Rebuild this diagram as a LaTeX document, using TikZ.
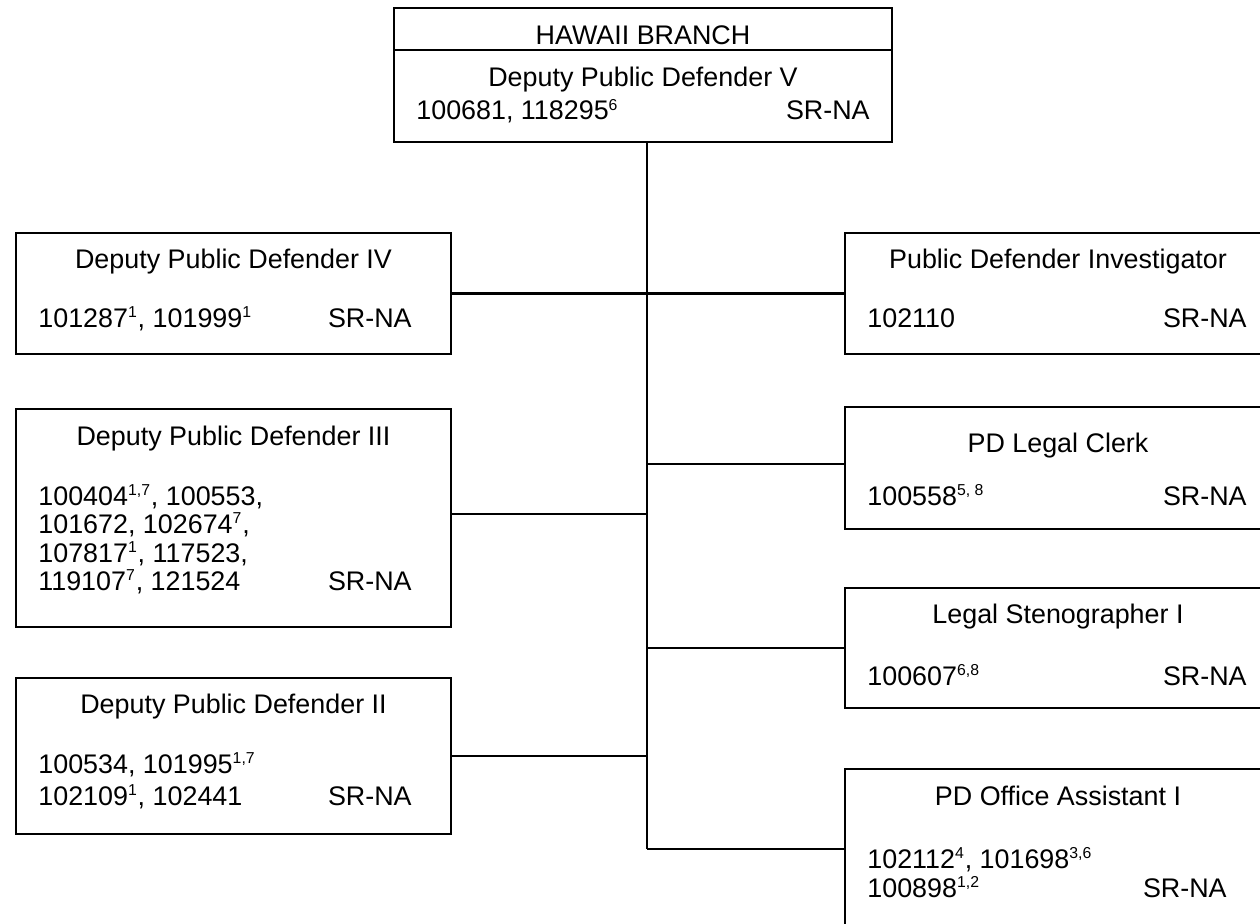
\documentclass[tikz,border=0pt]{standalone}
\usepackage{fontspec}
\setmainfont{Liberation Sans}
\newcommand\fnote[1]{\textsuperscript{\fontsize{9}{10}\selectfont #1}}
\begin{document}
\begin{tikzpicture}[
    box/.style={draw, rectangle, line width=1.6pt, inner sep=0pt},
    txt/.style={inner sep=0pt, font=\fontsize{15.3}{18}\selectfont},
    link/.style={line width=1.3pt}]

    \useasboundingbox (0,0) rectangle (25.2,-18.48);

    % Boxes
    \node at (12.86,-0.58) (head) [box, minimum width=9.96cm, minimum height=0.84cm] {};
    \node at (12.86,-1.92) (top) [box, minimum width=9.96cm, minimum height=1.84cm] {};

    \node at (4.67,-5.87) (dpd4) [box, minimum width=8.7cm, minimum height=2.42cm] {};
    \node at (4.67,-10.36) (dpd3) [box, minimum width=8.7cm, minimum height=4.36cm] {};
    \node at (4.67,-15.12) (dpd2) [box, minimum width=8.7cm, minimum height=3.12cm] {};

    \node at (21.95,-5.87) (pdi) [box, minimum width=10.1cm, minimum height=2.42cm] {};
    \node at (21.95,-9.36) (clerk) [box, minimum width=10.1cm, minimum height=2.44cm] {};
    \node at (21.95,-12.96) (steno) [box, minimum width=10.1cm, minimum height=2.4cm] {};
    \node at (21.95,-17.44) (assist) [box, minimum width=10.1cm, minimum height=4.12cm] {};

    % Texts
    \node at (12.86,-0.90) (headtxt) [txt, anchor=base] {HAWAII BRANCH};
    \node at (12.86,-1.74) (toptitle) [txt, anchor=base] {Deputy Public Defender V};
    \node at (8.32,-2.40) (topnum) [txt, anchor=base west] {100681, 118295\fnote{6}};
    \node at (17.40,-2.40) (topsr) [txt, anchor=base east] {SR-NA};

    \node at (4.67,-5.36) (dpd4title) [txt, anchor=base] {Deputy Public Defender IV};
    \node at (0.76,-6.54) (dpd4num) [txt, anchor=base west] {101287\fnote{1}, 101999\fnote{1}};
    \node at (8.24,-6.54) (dpd4sr) [txt, anchor=base east] {SR-NA};

    \node at (4.67,-8.90) (dpd3title) [txt, anchor=base] {Deputy Public Defender III};
    \node at (0.76,-10.10) (dpd3numa) [txt, anchor=base west] {100404\fnote{1,7}, 100553,};
    \node at (0.76,-10.66) (dpd3numb) [txt, anchor=base west] {101672, 102674\fnote{7},};
    \node at (0.76,-11.24) (dpd3numc) [txt, anchor=base west] {107817\fnote{1}, 117523,};
    \node at (0.76,-11.80) (dpd3numd) [txt, anchor=base west] {119107\fnote{7}, 121524};
    \node at (8.24,-11.80) (dpd3sr) [txt, anchor=base east] {SR-NA};

    \node at (4.67,-14.26) (dpd2title) [txt, anchor=base] {Deputy Public Defender II};
    \node at (0.76,-15.46) (dpd2numa) [txt, anchor=base west] {100534, 101995\fnote{1,7}};
    \node at (0.76,-16.10) (dpd2numb) [txt, anchor=base west] {102109\fnote{1}, 102441};
    \node at (8.24,-16.10) (dpd2sr) [txt, anchor=base east] {SR-NA};

    \node at (21.16,-5.36) (pdititle) [txt, anchor=base] {Public Defender Investigator};
    \node at (17.34,-6.54) (pdinum) [txt, anchor=base west] {102110};
    \node at (24.94,-6.54) (pdisr) [txt, anchor=base east] {SR-NA};

    \node at (21.16,-9.04) (clerktitle) [txt, anchor=base] {PD Legal Clerk};
    \node at (17.34,-10.10) (clerknum) [txt, anchor=base west] {100558\fnote{5, 8}};
    \node at (24.94,-10.10) (clerksr) [txt, anchor=base east] {SR-NA};

    \node at (21.16,-12.46) (stenotitle) [txt, anchor=base] {Legal Stenographer I};
    \node at (17.34,-13.70) (stenonum) [txt, anchor=base west] {100607\fnote{6,8}};
    \node at (24.94,-13.70) (stenosr) [txt, anchor=base east] {SR-NA};

    \node at (21.16,-16.10) (assisttitle) [txt, anchor=base] {PD Office Assistant I};
    \node at (17.34,-17.36) (assistnuma) [txt, anchor=base west] {102112\fnote{4}, 101698\fnote{3,6}};
    \node at (17.34,-17.94) (assistnumb) [txt, anchor=base west] {100898\fnote{1,2}};
    \node at (24.54,-17.94) (assistsr) [txt, anchor=base east] {SR-NA};

    % Lines
    \coordinate (trunkbot) at (12.94,-16.98);
    \coordinate (j3) at (12.94,-10.28);
    \coordinate (j5) at (12.94,-9.28);

    \draw[link] (top.south -| trunkbot) -- (trunkbot);
    \draw[link] (dpd4) -- (pdi);
    \draw[link] (dpd3.east |- j3) -- (j3);
    \draw[link] (dpd2.east) -- (dpd2.east -| trunkbot);
    \draw[link] (j5) -- (clerk.west |- j5);
    \draw[link] (steno.west -| trunkbot) -- (steno.west);
    \draw[link] (trunkbot) -- (assist.west |- trunkbot);

\end{tikzpicture}
\end{document}
